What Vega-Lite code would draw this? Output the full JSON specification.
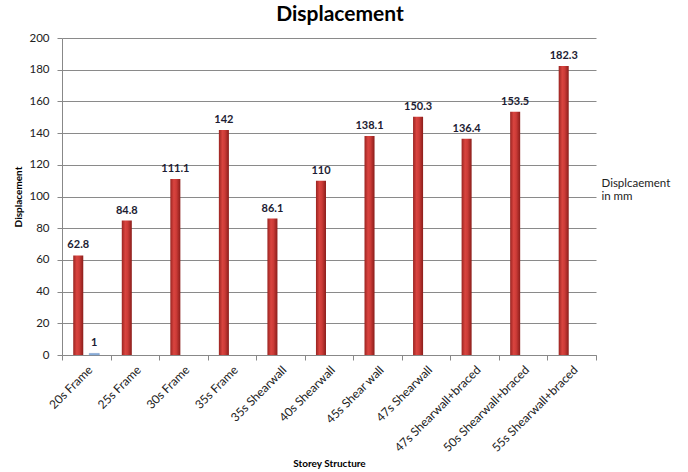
{
  "$schema": "https://vega.github.io/schema/vega-lite/v6.json",
  "width": 534,
  "height": 317,
  "autosize": {"type": "none"},
  "padding": {"left": 62, "top": 38, "right": 92, "bottom": 117},
  "background": "white",
  "title": {
    "text": "Displacement",
    "font": "Lato",
    "fontSize": 21,
    "fontWeight": "bold",
    "color": "#000000",
    "anchor": "middle",
    "dx": 11,
    "offset": 7
  },
  "config": {
    "font": "Lato",
    "view": {"stroke": null}
  },
  "data": {
    "values": [
      {"structure": "20s Frame", "series": "Displcaement in mm", "value": 62.8},
      {"structure": "20s Frame", "series": "Series 2", "value": 1},
      {"structure": "25s Frame", "series": "Displcaement in mm", "value": 84.8},
      {"structure": "30s Frame", "series": "Displcaement in mm", "value": 111.1},
      {"structure": "35s Frame", "series": "Displcaement in mm", "value": 142},
      {"structure": "35s Shearwall", "series": "Displcaement in mm", "value": 86.1},
      {"structure": "40s Shearwall", "series": "Displcaement in mm", "value": 110},
      {"structure": "45s Shear wall", "series": "Displcaement in mm", "value": 138.1},
      {"structure": "47s Shearwall", "series": "Displcaement in mm", "value": 150.3},
      {"structure": "47s Shearwall+braced", "series": "Displcaement in mm", "value": 136.4},
      {"structure": "50s Shearwall+braced", "series": "Displcaement in mm", "value": 153.5},
      {"structure": "55s Shearwall+braced", "series": "Displcaement in mm", "value": 182.3}
    ]
  },
  "encoding": {
    "x": {
      "field": "structure",
      "type": "nominal",
      "sort": null,
      "scale": {"paddingInner": 0, "paddingOuter": 0},
      "axis": {
        "title": "Storey Structure",
        "titleFont": "Lato",
        "titleFontSize": 10,
        "titleFontWeight": "bold",
        "titleColor": "#000000",
        "titlePadding": 5,
        "labelAngle": -45,
        "labelFontSize": 12,
        "labelColor": "#222222",
        "labelPadding": 4,
        "labelLimit": 200,
        "tickBand": "extent",
        "ticks": true,
        "tickSize": 5,
        "tickColor": "#888888",
        "domainColor": "#888888",
        "grid": false
      }
    },
    "xOffset": {
      "field": "series",
      "type": "nominal",
      "scale": {
        "domain": ["Displcaement in mm", "Series 2"],
        "paddingInner": 0.375,
        "paddingOuter": 0.7
      }
    },
    "y": {
      "field": "value",
      "type": "quantitative",
      "scale": {"domain": [0, 200], "nice": false},
      "axis": {
        "title": "Displacement",
        "titleFont": "Lato",
        "titleFontSize": 10,
        "titleFontWeight": "bold",
        "titleColor": "#000000",
        "titlePadding": 5,
        "values": [0, 20, 40, 60, 80, 100, 120, 140, 160, 180, 200],
        "labelFontSize": 11.5,
        "labelColor": "#222222",
        "labelPadding": 8,
        "tickSize": 5,
        "tickColor": "#888888",
        "domainColor": "#888888",
        "gridColor": "#8a8a8a",
        "gridWidth": 1
      }
    }
  },
  "layer": [
    {
      "transform": [{"filter": "datum.series === 'Displcaement in mm'"}],
      "mark": {
        "type": "bar",
        "fill": {
          "gradient": "linear",
          "x1": 0, "x2": 1, "y1": 0, "y2": 0,
          "stops": [
            {"offset": 0, "color": "#9a2421"},
            {"offset": 0.35, "color": "#d9443f"},
            {"offset": 0.6, "color": "#cc3b37"},
            {"offset": 1, "color": "#8a1d1a"}
          ]
        }
      },
      "encoding": {
        "stroke": {
          "field": "series",
          "type": "nominal",
          "scale": {"range": ["rgba(0,0,0,0)"]},
          "legend": {
            "title": null,
            "orient": "none",
            "legendX": 524,
            "legendY": 140,
            "symbolOpacity": 0,
            "symbolSize": 0,
            "symbolStrokeWidth": 0,
            "labelFontSize": 11.5,
            "labelColor": "#222222",
            "labelLimit": 200,
            "labelExpr": "['Displcaement', 'in mm']",
            "labelLineHeight": 17
          }
        }
      }
    },
    {
      "transform": [{"filter": "datum.series === 'Series 2'"}],
      "mark": {"type": "bar", "fill": "#8fb3de", "stroke": "#6f95c4", "strokeWidth": 0.5}
    },
    {
      "mark": {
        "type": "text",
        "baseline": "bottom",
        "dy": -5,
        "fontSize": 11,
        "fontWeight": "bold",
        "color": "#1c1c33"
      },
      "encoding": {
        "text": {"field": "value", "type": "quantitative"}
      }
    }
  ]
}
